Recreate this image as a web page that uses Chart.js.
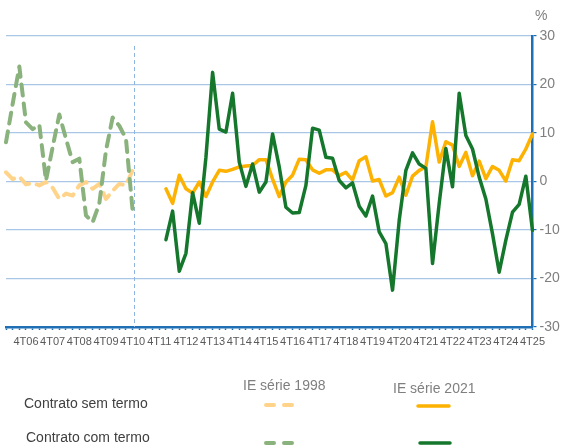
<!DOCTYPE html>
<html>
<head>
<meta charset="utf-8">
<script src="https://cdn.jsdelivr.net/npm/chart.js@4.4.1/dist/chart.umd.min.js"></script>
<style>
  body { margin: 0; background: #fff; font-family: "Liberation Sans", Arial, sans-serif; }
  #wrap { position: relative; width: 563px; height: 446px; overflow: hidden; }
  #chart { position: absolute; left: 0; top: 0; }
  .t { position: absolute; font-size: 14px; line-height: 16px; white-space: nowrap; }
  .head { color: #7f7f7f; }
  .row { color: #404040; }
  #keys { position: absolute; left: 0; top: 0; }
</style>
</head>
<body>
<div id="wrap">
  <canvas id="chart" width="563" height="446"></canvas>
  <div class="t head" style="left:535px; top:7px;">%</div>
  <div class="t head" style="left:243px; top:377px;">IE série 1998</div>
  <div class="t head" style="left:393px; top:380px;">IE série 2021</div>
  <div class="t row" style="left:24px; top:395px;">Contrato sem termo</div>
  <div class="t row" style="left:26px; top:429px;">Contrato com termo</div>
  <svg id="keys" width="563" height="446">
    <line x1="266" y1="405" x2="294" y2="405" stroke="#FFD48A" stroke-width="4" stroke-linecap="round" stroke-dasharray="8 10"/>
    <line x1="418" y1="406" x2="449" y2="406" stroke="#FDB100" stroke-width="3.5" stroke-linecap="round"/>
    <line x1="266" y1="443" x2="294" y2="443" stroke="#8AB27D" stroke-width="4" stroke-linecap="round" stroke-dasharray="8 10"/>
    <line x1="420" y1="443" x2="450" y2="443" stroke="#15772B" stroke-width="3.5" stroke-linecap="round"/>
  </svg>
</div>
<script>
(() => {
  // quarters 1T06 .. 4T25
  const years = ["06", "07", "08", "09", "10", "11", "12", "13", "14", "15",
                 "16", "17", "18", "19", "20", "21", "22", "23", "24", "25"];
  const quarters = [];
  years.forEach(y => { for (let q = 1; q <= 4; q++) quarters.push(q + "T" + y); });

  // IE série 1998, 1T06 .. 4T10
  const semTermo1998 = [1.9, 0.5, 1.0, -0.6, -0.3, -0.8, -0.1, -1.3, -3.6, -2.5,
                        -2.9, -0.8, -0.1, -1.5, -0.5, -3.6, -1.9, -0.5, -0.8, 2.3];
  const comTermo1998 = [8.1, 16.0, 23.7, 12.2, 10.8, 11.7, 0.2, 7.1, 13.8, 8.8,
                        4.0, 4.7, -7.0, -8.4, -4.6, 6.4, 13.2, 11.5, 8.8, -6.0];

  // IE série 2021, 1T12 .. 4T25
  const start2021 = 24;
  const semTermo2021 = [-1.5, -4.5, 1.3, -1.5, -2.4, -0.1, -3.1, -0.1, 2.3, 2.1, 2.5, 3.0, 3.2, 3.3, 4.5,
                        4.5, 0.5, -3.1, -0.1, 1.3, 4.6, 4.5, 2.4, 1.7, 2.4, 2.4, 1.2, 1.9, 0.3, 4.3, 5.1,
                        0.1, 0.4, -3.0, -2.3, 0.9, -2.8, 1.1, 2.3, 3.0, 12.3, 4.0, 8.2, 7.5,
                        3.1, 6.0, 1.2, 4.2, 0.6, 3.1, 2.3, 0.1, 4.5, 4.3, 6.7, 9.8];
  const comTermo2021 = [-12.0, -6.1, -18.5, -14.8, -2.3, -8.6, 5.0, 22.5, 10.8, 10.2, 18.2, 4.0, -1.0, 3.6, -2.2,
                        -0.1, 9.8, 3.0, -5.3, -6.5, -6.4, -0.8, 11.0, 10.6, 5.0, 4.8, 0.2, -1.3, -0.3, -5.1, -7.1,
                        -3.0, -10.4, -12.8, -22.4, -8.0, 2.3, 5.9, 3.6, 2.7, -16.9, -4.5, 6.8, -1.1,
                        18.2, 9.5, 6.7, 0.9, -3.6, -10.8, -18.7, -12.1, -6.3, -4.7, 1.1, -10.1];

  const yTicks = [-30, -20, -10, 0, 10, 20, 30];
  const breakAt = 19.25; // series break, just after 4T10

  const pad = (vals, from) => quarters.map((_, i) =>
    i >= from && i - from < vals.length ? vals[i - from] : null);

  const blue = "#1f6fb5";
  const font = "'Liberation Sans', Arial, sans-serif";

  const breakLine = {
    id: "breakLine",
    beforeDatasetsDraw(chart) {
      const { ctx, chartArea, scales: { x } } = chart;
      const px = Math.round(x.getPixelForValue(breakAt)) + 0.5;
      ctx.save();
      ctx.strokeStyle = "#8fb4de";
      ctx.lineWidth = 1;
      ctx.setLineDash([4, 3]);
      ctx.beginPath();
      ctx.moveTo(px, chartArea.top + 10);
      ctx.lineTo(px, chartArea.bottom);
      ctx.stroke();
      ctx.restore();
    },
  };

  const data = {
    labels: quarters,
    datasets: [
      {
        label: "Contrato sem termo (IE série 1998)",
        data: pad(semTermo1998, 0),
        borderColor: "#FFD48A",
        borderWidth: 4,
        borderDash: [11, 8],
        order: 4,
      },
      {
        label: "Contrato com termo (IE série 1998)",
        data: pad(comTermo1998, 0),
        borderColor: "#8AB27D",
        borderWidth: 4,
        borderDash: [11, 8],
        order: 3,
      },
      {
        label: "Contrato sem termo (IE série 2021)",
        data: pad(semTermo2021, start2021),
        borderColor: "#FDB100",
        borderWidth: 3.5,
        order: 2,
      },
      {
        label: "Contrato com termo (IE série 2021)",
        data: pad(comTermo2021, start2021),
        borderColor: "#15772B",
        borderWidth: 3.5,
        order: 1,
      },
    ],
  };

  const config = {
    type: "line",
    data: data,
    options: {
      responsive: false,
      animation: false,
      layout: {
        padding: { left: 6, top: 36, right: 0, bottom: 99 },
      },
      plugins: {
        legend: { display: false },
        tooltip: { enabled: false },
      },
      elements: {
        point: { radius: 0 },
        line: { tension: 0, borderCapStyle: "round", borderJoinStyle: "round" },
      },
      scales: {
        x: {
          grid: {
            drawOnChartArea: false,
            drawTicks: true,
            tickLength: 3,
            tickColor: blue,
            tickWidth: 1.5,
          },
          border: { color: blue, width: 2.5 },
          ticks: {
            autoSkip: false,
            maxRotation: 0,
            minRotation: 0,
            padding: 5,
            color: "#595959",
            font: { size: 11, family: font },
            callback: (v, i) => (quarters[i].startsWith("4") ? quarters[i] : ""),
          },
          afterFit: (s) => { s.height = 20; },
        },
        y: {
          position: "right",
          min: yTicks[0],
          max: yTicks[yTicks.length - 1],
          afterBuildTicks: (s) => { s.ticks = yTicks.map((v) => ({ value: v })); },
          ticks: {
            color: "#7f7f7f",
            padding: 3,
            font: { size: 14, family: font },
          },
          grid: {
            color: (c) => (c.tick && c.tick.value === yTicks[0] ? "rgba(0,0,0,0)" : "#a9c6e6"),
            lineWidth: 1.2,
            tickColor: blue,
            tickLength: 4,
          },
          border: { color: blue, width: 2.5 },
          afterFit: (s) => { s.width = 30.5; },
        },
      },
    },
    plugins: [breakLine],
  };

  new Chart(document.getElementById("chart"), config);
})();
</script>
</body>
</html>
